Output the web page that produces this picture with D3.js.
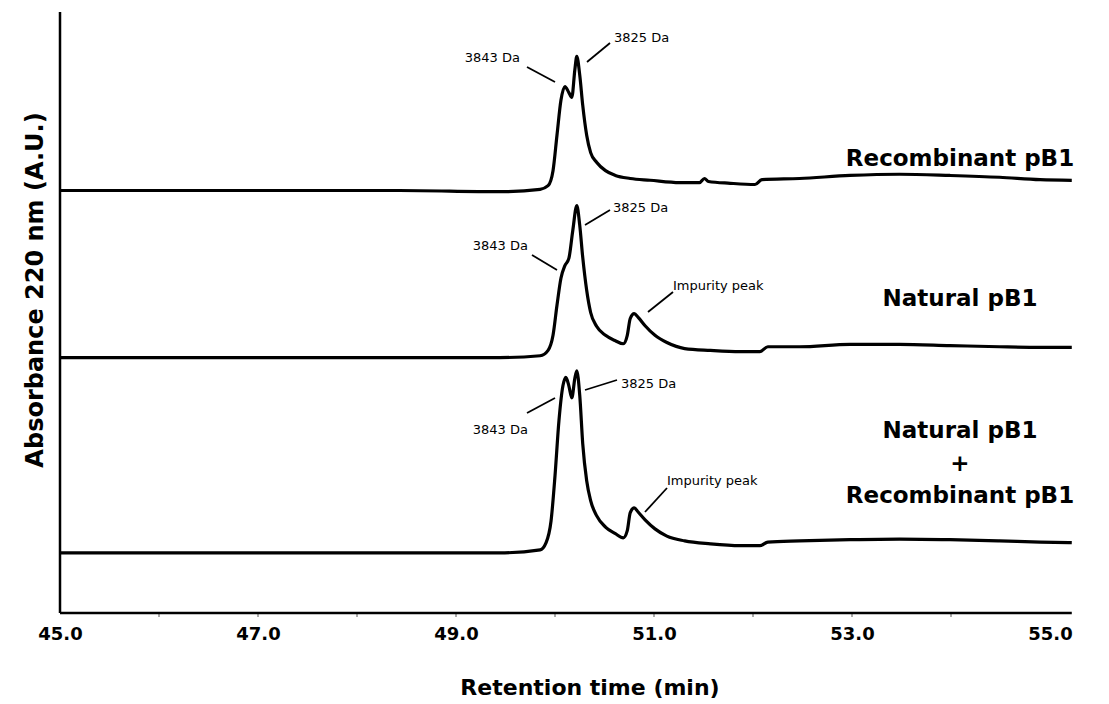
<!DOCTYPE html>
<html>
<head>
<meta charset="utf-8">
<script src="https://cdn.jsdelivr.net/npm/d3@7"></script>
<style>
  body { margin: 0; background: #fff; }
  text { font-family: "DejaVu Sans", sans-serif; fill: #000; }
</style>
</head>
<body>
<svg width="1109" height="704"></svg>
<script>
var width = 1109;
var height = 704;
var svg = d3.select("svg");

// retention time (min) / absorbance (A.U., relative to each trace's own baseline)
var recombTime = [45.00, 46.41, 48.43, 49.44, 49.85, 49.93, 49.98, 50.02, 50.06, 50.10, 50.14, 50.17, 50.20, 50.22, 50.25, 50.28, 50.32, 50.36, 50.42, 50.51, 50.61, 50.76, 50.96, 51.26, 51.46, 51.51, 51.55, 51.77, 52.02, 52.09, 52.47, 52.98, 53.48, 53.99, 54.49, 54.90, 55.22];
var recombAbs  = [0, 0, 0, -0.2, 0.2, 0.8, 3.3, 9.2, 15.0, 17.3, 16.3, 15.5, 20.0, 22.3, 19.2, 14.2, 9.2, 6.3, 4.7, 3.3, 2.5, 2.0, 1.7, 1.3, 1.3, 2.0, 1.5, 1.2, 1.0, 1.8, 2.0, 2.5, 2.7, 2.5, 2.2, 1.8, 1.7];

var naturalTime = [45.00, 48.43, 49.44, 49.85, 49.93, 49.98, 50.02, 50.06, 50.10, 50.14, 50.18, 50.22, 50.25, 50.28, 50.32, 50.36, 50.42, 50.51, 50.61, 50.69, 50.73, 50.76, 50.80, 50.84, 50.91, 51.01, 51.13, 51.31, 51.57, 51.87, 52.07, 52.15, 52.47, 52.98, 53.48, 53.99, 54.49, 54.90, 55.22];
var naturalAbs  = [0, 0, 0, 0.3, 1.2, 3.7, 8.7, 13.2, 15.3, 16.5, 21.2, 25.3, 22.0, 16.7, 11.2, 7.5, 5.2, 3.7, 2.8, 2.3, 3.7, 6.5, 7.3, 6.7, 5.3, 3.7, 2.5, 1.5, 1.2, 1.0, 1.0, 1.8, 1.8, 2.2, 2.2, 2.0, 1.8, 1.7, 1.7];

var mixTime = [45.00, 48.43, 49.44, 49.85, 49.91, 49.96, 50.00, 50.04, 50.08, 50.11, 50.14, 50.17, 50.20, 50.22, 50.25, 50.28, 50.32, 50.36, 50.42, 50.51, 50.61, 50.69, 50.73, 50.76, 50.80, 50.84, 50.91, 51.01, 51.13, 51.31, 51.57, 51.87, 52.07, 52.15, 52.47, 52.98, 53.48, 53.99, 54.49, 54.90, 55.22];
var mixAbs  = [0, 0, 0, 0.5, 1.7, 5.3, 12.8, 22.0, 27.8, 29.2, 27.8, 25.8, 29.0, 30.3, 26.2, 18.2, 12.0, 8.7, 6.2, 4.3, 3.2, 2.5, 3.7, 6.7, 7.5, 6.8, 5.5, 4.0, 2.8, 2.0, 1.5, 1.2, 1.2, 1.8, 2.0, 2.2, 2.3, 2.2, 2.0, 1.8, 1.7];

// vertical offsets of the stacked traces (A.U.)
var traceOffsets = [70.3, 42.5, 10];
var traceNames = [["Recombinant pB1"], ["Natural pB1"], ["Natural pB1", "+", "Recombinant pB1"]];
var xTicks = [45, 47, 49, 51, 53, 55];
var xMinorTicks = [46, 48, 50, 52, 54];

var x = d3.scaleLinear().domain([45, 55]).range([60, 1050]);
var y = d3.scaleLinear().domain([0, 100]).range([613, 12]);

var series = [
  {time: recombTime, abs: recombAbs},
  {time: naturalTime, abs: naturalAbs},
  {time: mixTime, abs: mixAbs}
];

var line = d3.line()
  .x(function(d) { return x(d[0]); })
  .y(function(d) { return y(d[1]); })
  .curve(d3.curveMonotoneX);

var tEnd = d3.max(recombTime);

// axes
var xAxis = svg.append("g")
  .attr("transform", "translate(0," + y(0) + ")")
  .call(d3.axisBottom(x).tickValues(xTicks).tickSize(0).tickPadding(14)
    .tickFormat(d3.format(".1f")));
xAxis.select(".domain").remove();
xAxis.selectAll("text")
  .style("font-size", "18px")
  .style("font-weight", "bold");

svg.append("g")
  .selectAll("line")
  .data(xMinorTicks.concat(xTicks.slice(1, -1)))
  .enter().append("line")
  .attr("x1", function(d) { return x(d); })
  .attr("x2", function(d) { return x(d); })
  .attr("y1", y(0))
  .attr("y2", y(0) + 4)
  .style("stroke", "#555")
  .style("stroke-width", 1);

svg.append("line")
  .attr("x1", x(45)).attr("x2", x(tEnd))
  .attr("y1", y(0)).attr("y2", y(0))
  .style("stroke", "#000").style("stroke-width", 2.5);

svg.append("line")
  .attr("x1", x(45)).attr("x2", x(45))
  .attr("y1", y(0)).attr("y2", y(100))
  .style("stroke", "#000").style("stroke-width", 2.5);

// traces
series.forEach(function(s, i) {
  var pts = s.time.map(function(t, j) { return [t, s.abs[j] + traceOffsets[i]]; });
  svg.append("path")
    .datum(pts)
    .attr("d", line)
    .style("fill", "none")
    .style("stroke", "#000")
    .style("stroke-width", 3.2)
    .style("stroke-linejoin", "round");
});

// trace names on the right
var nameBaselines = [166, 306, 438];
traceNames.forEach(function(lines, i) {
  var lh = [0, 33, 65];
  lines.forEach(function(txt, k) {
    svg.append("text")
      .attr("x", 960)
      .attr("y", nameBaselines[i] + lh[k])
      .attr("text-anchor", "middle")
      .style("font-size", "23px")
      .style("font-weight", "bold")
      .text(txt);
  });
});

// peak annotations: [trace, label, text x, text y, anchor, leader x1,y1,x2,y2]
var notes = [
  [0, "3843 Da", 520, 62, "end", 527, 67, 555, 82],
  [0, "3825 Da", 614, 42, "start", 587, 62, 610, 43],
  [1, "3843 Da", 528, 250, "end", 532, 255, 557, 270],
  [1, "3825 Da", 613, 212, "start", 585, 225, 610, 210],
  [1, "Impurity peak", 673, 290, "start", 648, 312, 673, 292],
  [2, "3843 Da", 528, 434, "end", 527, 413, 555, 398],
  [2, "3825 Da", 621, 388, "start", 585, 390, 617, 380],
  [2, "Impurity peak", 667, 485, "start", 645, 512, 667, 488]
];
notes.forEach(function(n) {
  svg.append("line")
    .attr("x1", n[5]).attr("y1", n[6]).attr("x2", n[7]).attr("y2", n[8])
    .style("stroke", "#000").style("stroke-width", 1.8);
  svg.append("text")
    .attr("x", n[2]).attr("y", n[3])
    .attr("text-anchor", n[4])
    .style("font-size", "13px")
    .text(n[1]);
});

// axis titles
svg.append("text")
  .attr("x", 590).attr("y", 695)
  .attr("text-anchor", "middle")
  .style("font-size", "22px")
  .style("font-weight", "bold")
  .text("Retention time (min)");

svg.append("text")
  .attr("transform", "translate(43,290) rotate(-90)")
  .attr("text-anchor", "middle")
  .style("font-size", "24px")
  .style("font-weight", "bold")
  .text("Absorbance 220 nm (A.U.)");
</script>
</body>
</html>
